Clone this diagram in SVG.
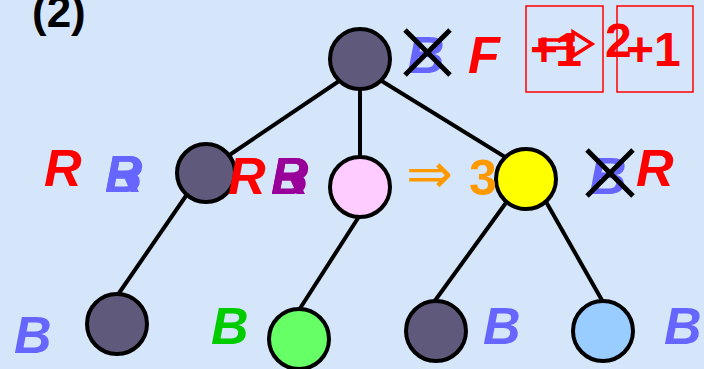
<svg xmlns="http://www.w3.org/2000/svg" width="704" height="369" viewBox="0 0 704 369">
<style>
.n{stroke:#000;stroke-width:4}
.d{fill:#5F5A7C}
.t{font-family:"Liberation Sans",Arial,sans-serif;font-weight:bold;font-style:italic;font-size:52px}
.u{font-family:"Liberation Sans",Arial,sans-serif;font-weight:bold;font-size:48px}
.e line{stroke:#000;stroke-width:4}
.x line{stroke:#000;stroke-width:5}
.blue{fill:#6666FF}
.red{fill:#FF0000}
</style>
<rect width="704" height="369" fill="#D5E6FB"/>
<g id="connectors" class="e">
<line x1="348" y1="75" x2="225" y2="158"/>
<line x1="360" y1="80" x2="360" y2="160"/>
<line x1="372" y1="75" x2="510" y2="160"/>
<line x1="190" y1="190" x2="117" y2="296"/>
<line x1="360" y1="215" x2="299" y2="310"/>
<line x1="508" y1="200" x2="434" y2="302"/>
<line x1="545" y1="200" x2="603" y2="302"/>
</g>
<text x="32" y="27" class="u" style="font-size:44px">(2)</text>
<g id="root"><circle cx="360" cy="59" r="30" class="n d"/></g>
<g id="midL"><circle cx="206" cy="173" r="29" class="n d"/></g>
<g id="midP"><circle cx="360" cy="187" r="30" class="n" fill="#FFCCFF"/></g>
<g id="midY"><circle cx="526" cy="179" r="30" class="n" fill="#FFFF00"/></g>
<g id="botL"><circle cx="117" cy="324" r="30" class="n d"/></g>
<g id="botG"><circle cx="299" cy="339" r="30" class="n" fill="#66FF66"/></g>
<g id="botD"><circle cx="436" cy="331" r="30" class="n d"/></g>
<g id="botB"><circle cx="603" cy="331" r="30" class="n" fill="#99CCFF"/></g>
<g id="labels">
<text x="407" y="73" class="t blue">B</text>
<g class="x"><line x1="405" y1="30" x2="450" y2="75"/><line x1="450" y1="30" x2="405" y2="75"/></g>
<text x="468" y="73" class="t red">F</text>
<rect x="526" y="6" width="77" height="86" fill="none" stroke="#FF0000" stroke-width="1.5"/>
<rect x="617" y="6" width="76" height="86" fill="none" stroke="#FF0000" stroke-width="1.5"/>
<text x="530" y="66" class="u red" textLength="52" lengthAdjust="spacing">+1</text>
<path d="M540,40 H573 V32 L592,44 L573,56 V48 H540 Z" fill="none" stroke="#FF0000" stroke-width="3.5"/>
<text x="605" y="57" class="u red">2</text>
<text x="626" y="66" class="u red">+1</text>
<text x="44" y="186" class="t red">R</text>
<text x="105" y="192" class="t blue">R</text>
<text x="105" y="192" class="t blue">B</text>
<text x="228" y="194" class="t red">R</text>
<text x="271" y="194" class="t" fill="#990099">R</text>
<text x="271" y="194" class="t" fill="#990099">B</text>
<text x="406" y="193" font-family="DejaVu Sans,sans-serif" font-size="56" fill="#FF9900">⇒</text>
<text x="469" y="195" class="u" style="font-size:50px" fill="#FF9900">3</text>
<text x="589" y="194" class="t blue">B</text>
<g class="x"><line x1="587" y1="150" x2="633" y2="196"/><line x1="633" y1="150" x2="587" y2="196"/></g>
<text x="636" y="186" class="t red">R</text>
<text x="14" y="353" class="t blue">B</text>
<text x="211" y="344" class="t" fill="#00CC00">B</text>
<text x="483" y="344" class="t blue">B</text>
<text x="664" y="344" class="t blue">B</text>
</g>
</svg>
